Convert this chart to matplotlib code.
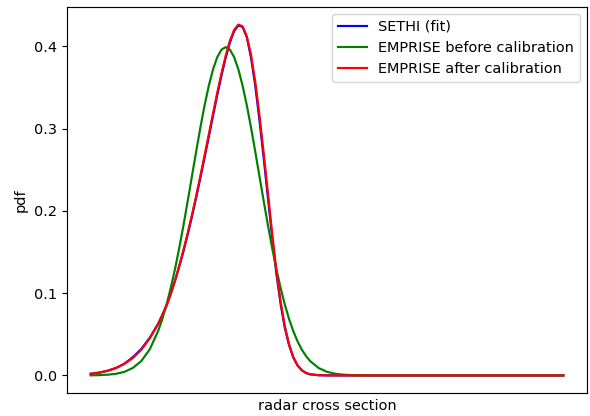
import matplotlib
matplotlib.use("Agg")
import matplotlib.pyplot as plt

# x positions (arbitrary units, x ticks are hidden in the original)
x = [-4.0, -3.75, -3.5, -3.25, -3.0, -2.75, -2.5, -2.25,
     -2.0, -1.875, -1.75, -1.625, -1.5, -1.375, -1.25, -1.125,
     -1.0, -0.875, -0.75, -0.625, -0.5, -0.375, -0.25, -0.125,
     0.0, 0.125, 0.25, 0.375, 0.5, 0.625, 0.75, 0.875,
     1.0, 1.125, 1.25, 1.375, 1.5, 1.625, 1.75, 1.875,
     2.0, 2.125, 2.25, 2.375, 2.5,
     2.75, 3.0, 3.25, 3.5, 3.75, 4.0, 4.25, 4.5, 10.0]

sethi = [0.0020, 0.0034, 0.0057, 0.0091, 0.0143, 0.0222, 0.0322, 0.0458,
         0.0628, 0.0738, 0.0855, 0.0995, 0.1150, 0.1325, 0.1510, 0.1712,
         0.1930, 0.2160, 0.2400, 0.2648, 0.2900, 0.3155, 0.3405, 0.3642,
         0.3860, 0.4045, 0.4185, 0.4250, 0.4235, 0.4110, 0.3860, 0.3520,
         0.3100, 0.2640, 0.2160, 0.1680, 0.1240, 0.0870, 0.0580, 0.0370,
         0.0220, 0.0122, 0.0064, 0.0030, 0.0014,
         0.0003, 0.0001, 0.0, 0.0, 0.0, 0.0, 0.0, 0.0, 0.0]

before = [0.0001, 0.0004, 0.0009, 0.0020, 0.0044, 0.0091, 0.0175, 0.0317,
          0.0540, 0.0688, 0.0863, 0.1066, 0.1295, 0.1550, 0.1826, 0.2119,
          0.2420, 0.2720, 0.3011, 0.3282, 0.3521, 0.3719, 0.3867, 0.3958,
          0.3989, 0.3958, 0.3867, 0.3719, 0.3521, 0.3282, 0.3011, 0.2720,
          0.2420, 0.2119, 0.1826, 0.1550, 0.1295, 0.1066, 0.0863, 0.0688,
          0.0540, 0.0417, 0.0317, 0.0238, 0.0175,
          0.0091, 0.0044, 0.0020, 0.0009, 0.0004, 0.0001, 0.0, 0.0, 0.0]

after = [0.0020, 0.0034, 0.0056, 0.0090, 0.0140, 0.0212, 0.0312, 0.0450,
         0.0625, 0.0735, 0.0850, 0.0995, 0.1155, 0.1335, 0.1525, 0.1730,
         0.1950, 0.2180, 0.2425, 0.2675, 0.2930, 0.3185, 0.3435, 0.3671,
         0.3885, 0.4066, 0.4199, 0.4263, 0.4241, 0.4119, 0.3895, 0.3570,
         0.3160, 0.2700, 0.2215, 0.1730, 0.1280, 0.0900, 0.0600, 0.0380,
         0.0225, 0.0125, 0.0065, 0.0031, 0.0014,
         0.0003, 0.0001, 0.0, 0.0, 0.0, 0.0, 0.0, 0.0, 0.0]

dpi = 104
fig = plt.figure(figsize=(590/dpi, 416/dpi), dpi=dpi)
ax = fig.add_axes([67/590, 23/416, 520/590, 386/416])

ax.plot(x, sethi, color="blue", label="SETHI (fit)")
ax.plot(x, before, color="green", label="EMPRISE before calibration")
ax.plot(x, after, color="red", label="EMPRISE after calibration")

ax.set_xticks([])
ax.set_xlabel("radar cross section")
ax.set_ylabel("pdf")
ax.legend(loc="upper right")

plt.savefig("out.png", dpi=dpi)
